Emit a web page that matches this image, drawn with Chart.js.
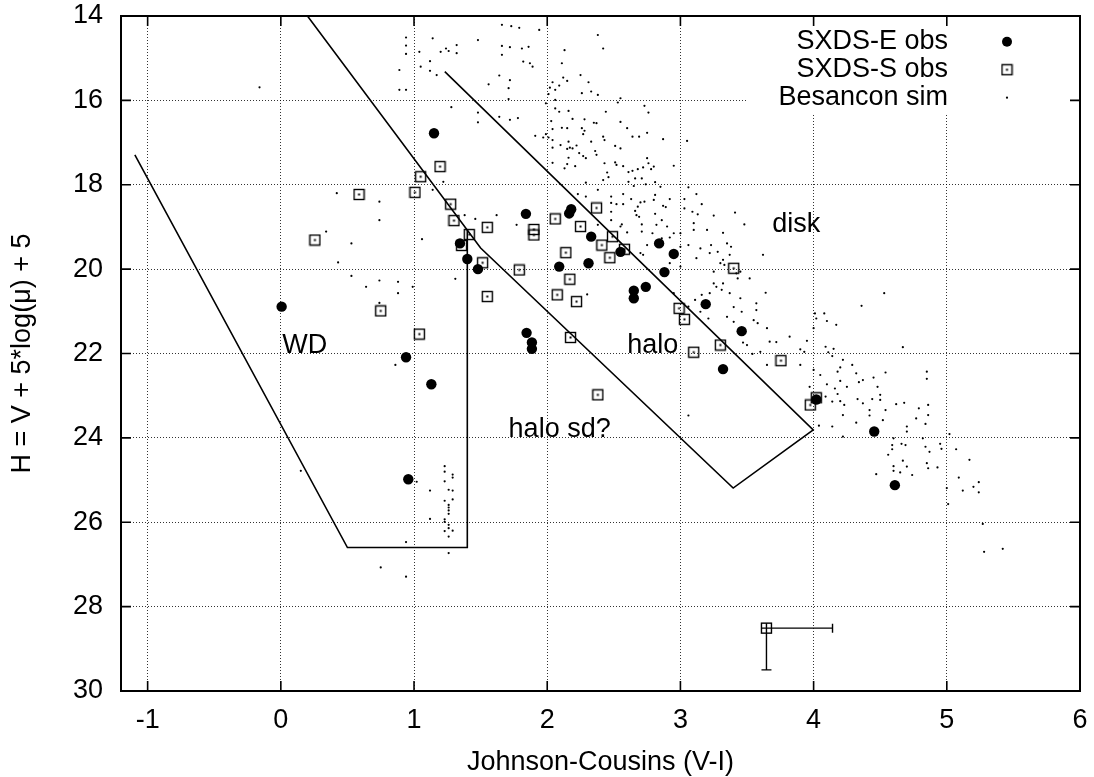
<!DOCTYPE html>
<html>
<head>
<meta charset="utf-8">
<script src="https://cdn.jsdelivr.net/npm/chart.js@4.4.1/dist/chart.umd.min.js"></script>
<style>
  html, body { margin: 0; padding: 0; background: #fff; }
  #wrap { width: 1094px; height: 777px; }
</style>
</head>
<body>
<div id="wrap"><canvas id="cmd"></canvas></div>
<script>
// colour-magnitude diagram: observed SXDS fields against the Besancon model
const xTicks = [-1, 0, 1, 2, 3, 4, 5, 6];
const yTicks = [14, 16, 18, 20, 22, 24, 26, 28, 30];
const legendNames = ["SXDS-E obs", "SXDS-S obs", "Besancon sim"];

const sxdsE = [
  [1.15, 16.78], [1.84, 18.69], [2.18, 18.58], [2.165, 18.68], [2.33, 19.23], [2.84, 19.39],
  [2.95, 19.64], [2.55, 19.59], [1.345, 19.39], [1.40, 19.76], [2.31, 19.86], [1.48, 20.0],
  [2.09, 19.94], [2.88, 20.07], [2.65, 20.51], [2.65, 20.69], [2.74, 20.42], [3.19, 20.83],
  [3.46, 21.47], [3.32, 22.37], [1.845, 21.51], [1.885, 21.74], [1.885, 21.89], [0.94, 22.09],
  [1.13, 22.73], [0.957, 24.98], [0.006, 20.89], [4.02, 23.09], [4.455, 23.85], [4.61, 25.12]
];

const sxdsS = [
  [0.587, 18.23], [0.256, 19.31], [0.75, 20.99], [1.195, 17.57], [1.05, 17.81], [1.007, 18.18],
  [1.275, 18.46], [1.30, 18.85], [1.415, 19.18], [1.357, 19.44], [1.55, 19.01], [1.90, 19.06],
  [1.90, 19.19], [2.06, 18.81], [2.37, 18.55], [2.25, 18.99], [2.49, 19.23], [2.41, 19.43],
  [2.58, 19.53], [2.47, 19.73], [2.14, 19.61], [1.515, 19.85], [1.79, 20.02], [2.17, 20.24],
  [1.55, 20.65], [2.075, 20.61], [2.22, 20.77], [1.04, 21.54], [2.175, 21.62], [2.99, 20.93],
  [3.03, 21.19], [3.40, 19.98], [3.30, 21.80], [3.10, 21.97], [3.755, 22.17], [2.38, 22.98],
  [4.02, 23.05], [3.975, 23.22]
];

const besancon = [
  [-0.16, 15.69], [0.89, 15.28], [0.89, 15.75], [0.42, 18.20], [0.74, 18.40], [0.74, 18.84],
  [0.34, 19.11], [0.53, 19.39], [0.43, 19.84], [0.53, 20.16], [0.64, 20.42], [0.74, 20.27],
  [0.88, 20.30], [0.88, 20.57], [0.74, 20.80], [0.86, 22.27], [0.15, 24.78], [0.75, 27.07],
  [0.99, 20.42], [1.31, 20.23],
  [1.02, 25.04], [1.12, 25.25], [1.23, 24.67], [1.23, 24.80], [1.29, 24.87], [1.29, 24.94],
  [1.23, 25.03], [1.26, 25.23], [1.29, 25.25], [1.23, 25.49], [1.29, 25.46], [1.26, 25.59],
  [1.26, 25.65], [1.26, 25.72], [1.26, 25.80], [1.23, 25.93], [1.23, 25.99], [1.12, 25.92],
  [1.26, 26.06], [1.26, 26.14], [1.23, 26.21], [1.29, 26.20], [1.26, 26.34], [0.94, 26.47],
  [1.26, 26.73], [0.94, 27.29],
  [0.94, 14.51], [0.94, 14.70], [0.94, 14.90], [0.94, 15.75], [1.04, 14.85], [1.05, 15.20],
  [1.12, 15.07], [1.12, 15.30], [1.14, 14.53], [1.20, 14.85], [1.24, 14.77], [1.26, 14.83],
  [1.32, 14.69], [1.32, 14.88], [1.17, 15.40], [1.28, 16.16], [1.48, 14.57], [1.48, 16.29],
  [1.48, 16.52], [1.56, 15.62], [1.64, 15.41], [1.64, 16.39], [1.66, 14.21], [1.73, 14.24],
  [1.79, 14.28], [1.94, 14.33], [1.66, 14.71], [1.66, 14.92], [1.72, 14.74], [1.81, 14.77],
  [1.86, 14.73], [1.82, 15.08], [1.87, 15.12], [1.89, 15.20], [1.72, 15.52], [1.71, 15.71],
  [1.71, 15.97], [1.72, 16.46], [1.78, 16.42], [1.91, 16.84], [1.62, 18.72], [1.77, 18.95],
  [1.22, 17.93], [1.14, 18.12], [1.06, 19.29], [1.38, 18.72], [1.46, 18.81],
  [2.13, 14.81], [2.42, 14.77], [2.38, 14.45], [2.11, 15.12], [2.25, 15.40], [2.12, 15.46],
  [2.15, 15.54], [2.04, 15.57], [2.31, 15.57], [2.02, 15.70], [2.09, 15.65], [2.06, 15.75],
  [2.26, 15.83], [2.33, 15.79], [2.38, 15.87], [2.01, 15.85], [1.99, 16.07], [2.06, 15.99],
  [2.55, 15.95], [2.53, 16.05], [2.06, 16.19], [2.09, 16.27], [2.16, 16.25], [2.44, 16.27],
  [2.73, 16.13], [2.76, 16.29], [2.03, 16.49], [2.19, 16.44], [2.28, 16.45], [2.35, 16.53],
  [2.37, 16.54], [2.55, 16.51], [2.60, 16.66], [2.11, 16.65], [2.15, 16.66], [2.26, 16.66],
  [2.28, 16.72], [2.27, 16.80], [2.04, 16.68], [1.99, 16.80], [1.97, 16.88], [2.01, 16.88],
  [2.04, 16.94], [2.75, 16.77], [2.64, 16.86], [2.69, 16.86], [2.42, 16.86], [2.43, 16.94],
  [2.87, 16.92], [3.05, 16.96], [2.33, 16.98], [2.16, 16.98], [2.22, 17.07], [2.04, 17.12],
  [2.10, 17.06], [2.15, 17.15], [2.17, 17.12], [2.19, 17.14], [2.51, 17.08], [2.55, 17.14],
  [2.36, 17.20], [2.24, 17.25], [2.27, 17.32], [2.29, 17.37], [2.37, 17.29], [2.16, 17.36],
  [2.04, 17.48], [2.15, 17.51], [2.21, 17.56], [2.13, 17.61], [2.43, 17.49], [2.51, 17.47],
  [2.52, 17.53], [2.57, 17.56], [2.75, 17.37], [2.76, 17.49], [2.80, 17.57], [2.78, 17.63],
  [2.68, 17.63], [2.64, 17.67], [2.61, 17.70], [2.72, 17.59], [2.95, 17.55], [2.45, 17.71],
  [2.46, 17.82], [2.61, 17.93], [2.66, 17.85], [2.71, 17.85], [2.65, 18.03], [2.74, 17.99],
  [2.81, 17.94], [2.85, 18.05], [2.29, 17.95], [2.42, 17.89], [2.38, 18.12], [3.06, 18.06],
  [3.12, 18.22], [3.16, 18.46], [3.03, 18.34], [3.03, 18.56], [3.09, 18.64], [3.13, 18.70],
  [3.25, 18.73], [3.41, 18.66], [3.10, 18.91], [3.20, 19.07], [3.32, 19.14], [3.48, 18.94],
  [2.48, 18.28], [2.57, 18.22], [2.52, 18.46], [2.48, 18.43], [2.57, 18.46], [2.63, 18.34],
  [2.70, 18.42], [2.73, 18.40], [2.68, 18.52], [2.66, 18.62], [2.67, 18.72], [2.69, 18.76],
  [2.80, 18.36], [2.81, 18.24], [2.87, 18.50], [2.89, 18.53], [2.92, 18.34], [2.81, 18.69],
  [2.86, 18.84], [2.82, 18.95], [2.90, 18.99], [2.95, 19.15], [2.79, 19.15], [2.71, 18.94],
  [2.71, 19.11], [2.60, 19.13], [2.56, 18.94], [2.55, 18.99], [2.48, 18.84], [2.48, 18.64],
  [2.23, 18.22], [2.29, 18.28], [2.38, 18.95],
  [3.23, 19.43], [3.35, 19.39], [3.38, 19.47], [3.62, 19.66], [2.86, 19.27], [2.92, 19.25],
  [2.75, 19.43], [2.72, 19.66], [3.00, 19.15], [3.00, 19.47], [3.06, 19.43], [3.10, 19.07],
  [3.15, 19.51], [3.28, 19.59], [3.37, 19.66],
  [3.12, 19.74], [3.22, 19.62], [3.25, 20.34], [3.27, 20.42], [3.32, 20.34], [3.37, 20.57],
  [3.11, 20.73], [3.16, 20.61], [3.15, 21.01], [3.21, 21.17], [3.35, 21.13], [3.40, 21.25],
  [3.45, 20.69], [3.46, 21.01], [3.52, 20.22], [3.57, 20.81], [3.65, 21.40], [3.67, 21.72],
  [3.50, 21.80], [3.60, 21.96], [3.65, 22.27], [3.30, 19.86], [3.42, 20.10], [3.64, 20.56],
  [2.95, 20.57], [3.06, 20.89], [3.22, 20.57], [3.00, 19.94], [2.92, 19.86], [2.70, 19.62],
  [3.32, 19.78], [3.33, 19.90], [3.25, 20.06], [3.45, 20.06], [3.43, 20.22], [3.31, 20.49],
  [3.57, 20.97], [3.40, 20.90], [3.55, 21.21], [3.58, 21.28], [3.47, 21.74], [3.54, 22.01],
  [3.72, 21.73], [3.82, 21.60], [3.90, 21.90], [3.93, 21.96], [3.95, 21.70], [4.00, 21.40],
  [4.01, 21.05], [4.08, 21.05], [4.10, 21.23], [4.17, 21.32], [4.02, 21.17], [4.09, 21.84],
  [4.11, 21.97], [4.15, 21.89], [4.14, 22.06], [4.22, 22.15], [4.29, 22.27], [4.20, 22.33],
  [4.18, 22.43], [4.00, 22.39], [4.05, 22.51], [3.90, 22.27], [4.32, 22.47], [4.37, 22.63],
  [4.34, 22.68], [4.45, 22.57], [4.54, 22.45], [4.10, 22.73], [4.20, 22.65], [4.16, 22.83],
  [4.25, 22.79], [3.97, 22.79], [4.09, 23.02], [4.18, 22.96], [4.14, 23.14], [4.20, 23.13],
  [4.23, 23.22], [4.33, 23.08], [4.37, 23.18], [4.44, 23.08], [4.48, 22.79], [4.50, 22.98],
  [4.50, 23.10], [4.22, 23.46], [4.42, 23.34], [4.42, 23.47], [4.54, 23.34], [4.62, 23.20],
  [4.68, 23.17], [4.79, 23.30], [4.77, 23.54], [4.70, 23.73], [4.70, 23.85], [4.52, 23.58],
  [4.32, 23.64], [4.14, 23.73], [4.04, 23.71], [4.22, 23.97], [4.86, 23.22], [4.86, 23.46],
  [4.84, 23.67], [4.85, 22.43], [4.85, 22.60], [4.67, 21.85], [4.53, 20.57], [4.36, 20.87],
  [5.02, 23.91], [4.60, 24.01], [4.59, 24.17], [4.59, 24.27], [4.66, 24.14], [4.69, 24.17],
  [4.56, 24.40], [4.67, 24.54], [4.70, 24.68], [4.60, 24.67], [4.60, 24.78], [4.65, 24.82],
  [4.74, 24.88], [4.47, 24.86], [4.82, 24.01], [4.84, 24.21], [4.87, 24.33], [4.95, 24.14],
  [4.96, 24.26], [4.85, 24.60], [4.86, 24.72], [4.93, 24.70], [5.07, 24.27], [5.17, 24.52],
  [5.09, 24.94], [5.12, 25.25], [5.20, 25.16], [5.24, 25.05], [5.24, 25.29], [5.00, 25.19],
  [5.01, 25.57], [5.27, 26.04], [5.28, 26.70], [5.42, 26.63], [3.06, 23.47], [2.30, 20.60]
];

// selection boxes in the diagram
const wdBox = [[-1.096, 17.29], [0.50, 26.60], [1.40, 26.60], [1.40, 19.07]];
const haloBox = [[0.20, 14.0], [1.50, 19.50], [3.396, 25.19], [3.997, 23.81], [1.231, 15.32]];

// typical error of one source
const errPoint = [3.646, 28.51];
const errSize = [0.496, 0.99];

const regionLabels = [
  { text: "disk", x: 3.69, y: 18.95 },
  { text: "WD", x: 0.01, y: 21.80 },
  { text: "halo", x: 2.60, y: 21.80 },
  { text: "halo sd?", x: 1.71, y: 23.81 }
];

const FONT = "'Liberation Sans', Arial, Helvetica, sans-serif";
const toXY = (pares) => pares.map(([x, y]) => ({ x, y }));

// open square with a dot in the middle
const cuadrado = document.createElement("canvas");
cuadrado.width = 13;
cuadrado.height = 13;
{
  const c = cuadrado.getContext("2d");
  c.strokeStyle = "#000";
  c.lineWidth = 1.4;
  c.strokeRect(1.5, 1.5, 10, 10);
  c.fillStyle = "#000";
  c.fillRect(5.5, 5.5, 2, 2);
}

const marcoGnuplot = {
  id: "marcoGnuplot",
  beforeDatasetsDraw(chart) {
    // the key box hides the grid behind it
    const { ctx, chartArea: ca } = chart;
    ctx.save();
    ctx.fillStyle = "#fff";
    ctx.fillRect(ca.right - 333, ca.top + 1, 332, 97);
    ctx.restore();
  },
  afterDatasetsDraw(chart) {
    const { ctx, chartArea: ca, scales } = chart;
    const sx = scales.x, sy = scales.y;
    ctx.save();

    // error bar sample
    const px = sx.getPixelForValue(errPoint[0]);
    const py = sy.getPixelForValue(errPoint[1]);
    const pxe = sx.getPixelForValue(errPoint[0] + errSize[0]);
    const pye = sy.getPixelForValue(errPoint[1] + errSize[1]);
    ctx.strokeStyle = "#000";
    ctx.lineWidth = 1.4;
    ctx.beginPath();
    ctx.moveTo(px - 5, py); ctx.lineTo(pxe, py);
    ctx.moveTo(pxe, py - 4.5); ctx.lineTo(pxe, py + 4.5);
    ctx.moveTo(px, py - 5); ctx.lineTo(px, pye);
    ctx.moveTo(px - 5, pye); ctx.lineTo(px + 5, pye);
    ctx.stroke();
    ctx.strokeRect(px - 5, py - 5, 10, 10);

    // region names
    ctx.fillStyle = "#000";
    ctx.font = `27px ${FONT}`;
    ctx.textAlign = "left";
    ctx.textBaseline = "middle";
    regionLabels.forEach((l) => {
      ctx.fillText(l.text, sx.getPixelForValue(l.x), sy.getPixelForValue(l.y));
    });

    // key
    const keyTextX = ca.right - 132;
    const keyMarkX = ca.right - 73;
    ctx.textAlign = "right";
    legendNames.forEach((nombre, i) => {
      const yy = ca.top + 25.7 + i * 28;
      ctx.fillText(nombre, keyTextX, yy);
      if (i === 0) {
        ctx.beginPath();
        ctx.arc(keyMarkX, yy, 5, 0, Math.PI * 2);
        ctx.fill();
      } else if (i === 1) {
        ctx.drawImage(cuadrado, keyMarkX - 6.5, yy - 6.5);
      } else {
        ctx.beginPath();
        ctx.arc(keyMarkX, yy, 1.1, 0, Math.PI * 2);
        ctx.fill();
      }
    });

    // border and inward ticks on all four sides
    ctx.lineWidth = 1.6;
    ctx.beginPath();
    xTicks.forEach((v) => {
      const x = sx.getPixelForValue(v);
      ctx.moveTo(x, ca.bottom); ctx.lineTo(x, ca.bottom - 10);
      ctx.moveTo(x, ca.top); ctx.lineTo(x, ca.top + 10);
    });
    yTicks.forEach((v) => {
      const y = sy.getPixelForValue(v);
      ctx.moveTo(ca.left, y); ctx.lineTo(ca.left + 10, y);
      ctx.moveTo(ca.right, y); ctx.lineTo(ca.right - 10, y);
    });
    ctx.stroke();
    ctx.lineWidth = 2;
    ctx.strokeRect(ca.left, ca.top, ca.right - ca.left, ca.bottom - ca.top);
    ctx.restore();
  }
};

const rejilla = {
  color: "rgba(0,0,0,0.8)",
  lineWidth: 1,
  drawTicks: false
};

new Chart(document.getElementById("cmd"), {
  type: "scatter",
  data: {
    datasets: [
      {
        label: "WD box",
        data: toXY(wdBox),
        showLine: true,
        pointRadius: 0,
        borderColor: "#000",
        borderWidth: 1.6,
        order: 4
      },
      {
        label: "halo box",
        data: toXY(haloBox),
        showLine: true,
        pointRadius: 0,
        borderColor: "#000",
        borderWidth: 1.6,
        order: 4
      },
      {
        label: legendNames[0],
        data: toXY(sxdsE),
        pointStyle: "circle",
        pointRadius: 5.2,
        backgroundColor: "#000",
        borderWidth: 0,
        order: 3
      },
      {
        label: legendNames[1],
        data: toXY(sxdsS),
        pointStyle: cuadrado,
        order: 2
      },
      {
        label: legendNames[2],
        data: toXY(besancon),
        pointStyle: "circle",
        pointRadius: 1.1,
        backgroundColor: "#000",
        borderWidth: 0,
        order: 1
      }
    ]
  },
  options: {
    responsive: true,
    maintainAspectRatio: false,
    animation: false,
    events: [],
    layout: { padding: { top: 16, right: 14, left: 0, bottom: 0 } },
    plugins: {
      legend: { display: false },
      tooltip: { enabled: false }
    },
    scales: {
      x: {
        type: "linear",
        min: -1.2,
        max: 6,
        afterBuildTicks: (eje) => { eje.ticks = xTicks.map((v) => ({ value: v })); },
        afterFit: (eje) => {
          eje.height = 86;
          eje.paddingLeft = 0;
          eje.paddingRight = 0;
        },
        grid: rejilla,
        border: { display: false, dash: [1, 2] },
        ticks: { color: "#000", padding: 13, font: { family: FONT, size: 27 } },
        title: {
          display: true,
          text: "Johnson-Cousins (V-I)",
          color: "#000",
          padding: { top: 0, bottom: 0 },
          font: { family: FONT, size: 27, lineHeight: 1.05 }
        }
      },
      y: {
        type: "linear",
        reverse: true,
        min: 14,
        max: 30,
        afterBuildTicks: (eje) => { eje.ticks = yTicks.map((v) => ({ value: v })); },
        afterFit: (eje) => {
          eje.width = 121;
          eje.paddingTop = 0;
          eje.paddingBottom = 0;
        },
        grid: rejilla,
        border: { display: false, dash: [1, 2] },
        ticks: { color: "#000", padding: 18, font: { family: FONT, size: 27 } },
        title: {
          display: true,
          text: "H = V + 5*log(μ) + 5",
          color: "#000",
          padding: { top: 6, bottom: 0 },
          font: { family: FONT, size: 27 }
        }
      }
    }
  },
  plugins: [marcoGnuplot]
});
</script>
</body>
</html>
